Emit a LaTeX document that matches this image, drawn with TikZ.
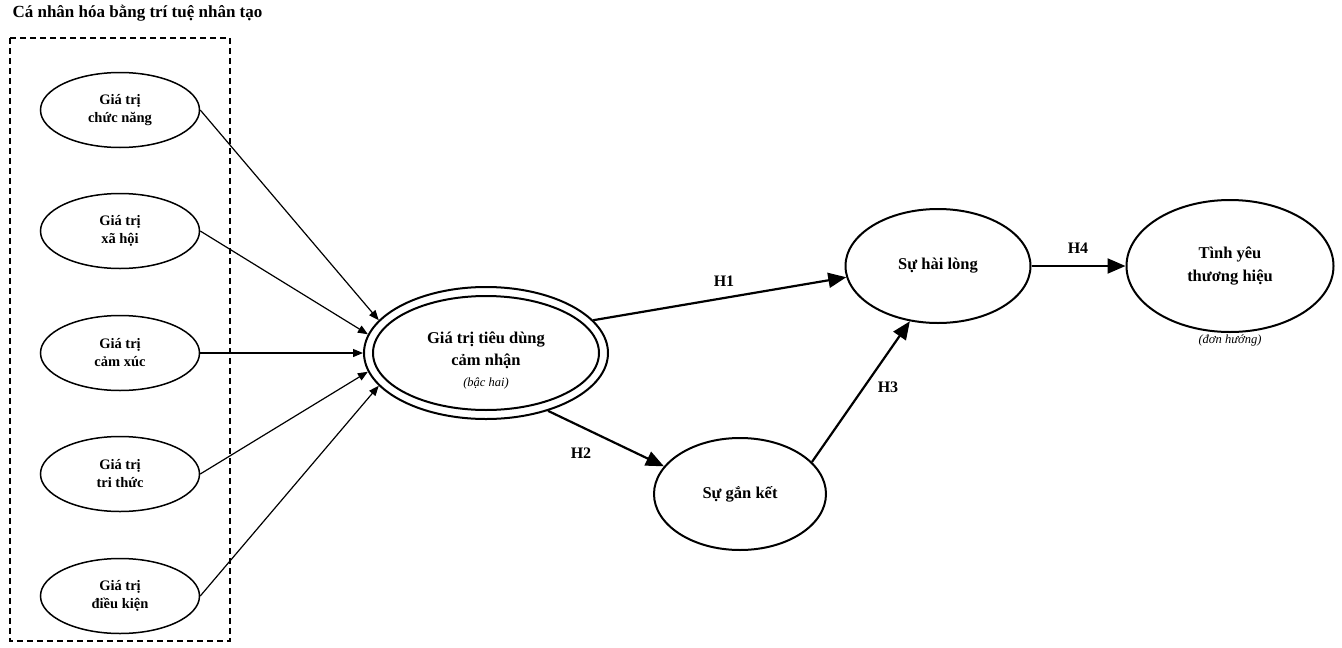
\documentclass[tikz,border=0pt]{standalone}
\usepackage{fontspec}
\setmainfont{Liberation Serif}
\usetikzlibrary{shapes.geometric,arrows.meta}
\tikzset{
  smallnode/.style={ellipse, draw, line width=1.5pt, minimum width=159pt, minimum height=75pt, inner sep=0pt, align=center, font=\fontsize{14.5}{18}\selectfont\bfseries},
  bignode/.style={ellipse, draw, line width=2pt, inner sep=0pt, align=center, font=\fontsize{16.5}{22}\selectfont\bfseries},
  thinarrow/.style={-{Triangle[length=10pt,width=8pt]}, line width=1.2pt},
  thickarrow/.style={-{Triangle[length=18pt,width=15pt]}, line width=2.2pt},
  hlabel/.style={font=\fontsize{16}{19}\selectfont\bfseries},
  notelabel/.style={font=\fontsize{12.5}{15}\selectfont\itshape},
  groupbox/.style={draw, line width=1.3pt, dash pattern=on 6pt off 4pt}
}
\begin{document}
\begin{tikzpicture}[x=1pt,y=-1pt]
\useasboundingbox[fill=white] (0,0) rectangle (1342,648);

\node[anchor=west, font=\fontsize{17}{20}\selectfont\bfseries] (title) at (9,13) {Cá nhân hóa bằng trí tuệ nhân tạo};
\draw[groupbox] (10,38) rectangle (230,641);

\node[smallnode] (a1) at (120,110) {Giá trị\\chức năng};
\node[smallnode] (a2) at (120,231) {Giá trị\\xã hội};
\node[smallnode] (a3) at (120,353) {Giá trị\\cảm xúc};
\node[smallnode] (a4) at (120,474) {Giá trị\\tri thức};
\node[smallnode] (a5) at (120,596) {Giá trị\\điều kiện};

\node[bignode, minimum width=244pt, minimum height=132pt] (g) at (486,353) {};
\node[bignode, minimum width=226pt, minimum height=114pt] (gin) at (486,353) {};
\node[align=center, font=\fontsize{16.5}{22}\selectfont\bfseries] (gtext) at (486,361) {Giá trị tiêu dùng\\cảm nhận\\[-1pt]{\fontsize{12.5}{15}\selectfont\mdseries\itshape (bậc hai)}};

\node[bignode, minimum width=185pt, minimum height=114pt] (h) at (938,266) {Sự hài lòng};
\node[bignode, minimum width=172pt, minimum height=112pt] (k) at (740,494) {Sự gắn kết};
\node[bignode, minimum width=207pt, minimum height=132pt] (t) at (1230,266) {Tình yêu\\thương hiệu};
\node[notelabel] (tnote) at (1230,340) {(đơn hướng)};

\draw[thinarrow] (a1.east) -- (g.163);
\draw[thinarrow] (a2.east) -- (g.171);
\draw[thinarrow] (a3.east) -- (g.180);
\draw[thinarrow] (a4.east) -- (g.189);
\draw[thinarrow] (a5.east) -- (g.197);

\draw[thickarrow] (g.17) -- (h.187);
\draw[thickarrow] (g.-43) -- (k.160);
\draw[thickarrow] (k.24) -- (h.243);
\draw[thickarrow] (h.east) -- (t.west);

\node[hlabel] (l1) at (724,281) {H1};
\node[hlabel] (l2) at (581,453) {H2};
\node[hlabel] (l3) at (888,387) {H3};
\node[hlabel] (l4) at (1078,248) {H4};
\end{tikzpicture}
\end{document}
